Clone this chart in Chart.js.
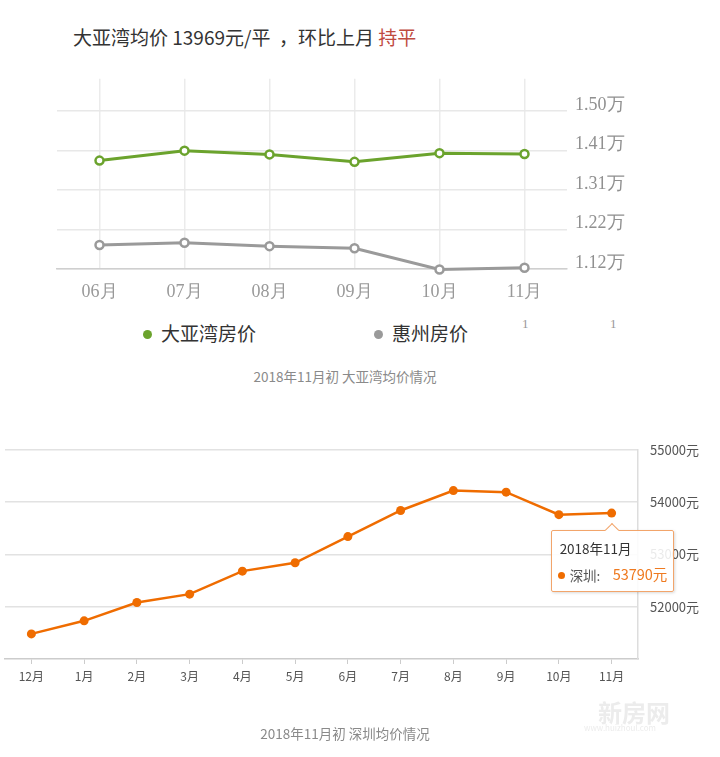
<!DOCTYPE html>
<html lang="zh">
<head>
    <meta charset="UTF-8">
    <meta name="viewport" content="width=device-width, initial-scale=1.0">
    <title>大亚湾均价情况</title>
    <style>
        body { margin: 0; width: 720px; height: 757px; background: #fff; position: relative; overflow: hidden;
               font-family: "Noto Sans CJK SC", "Noto Sans", sans-serif; }
        .abs { position: absolute; white-space: pre; }
        #title { left: 73px; top: 25px; font-size: 19px; line-height: 24px; color: #333; }
        #title .flat { color: #bf4b3f; }
        .caption { left: 0; width: 690px; text-align: center; font-size: 13.5px; line-height: 20px; color: #8a8a8a; }
        .box { position: absolute; left: 0; width: 720px; }
        #topBox { top: 60px; height: 250px; }
        #bottomBox { top: 430px; height: 270px; }
        .legend-item { position: absolute; top: 321px; font-size: 19px; line-height: 24px; color: #333; white-space: pre; }
        .legend-item i { display: inline-block; width: 9px; height: 9px; border-radius: 50%; margin-right: 9px; vertical-align: 2px; }
        .stray { font-family: "Liberation Serif", serif; font-size: 13px; color: #999; top: 316px; }
        #tip { position: absolute; display: none; width: 123px; height: 62px; box-sizing: border-box;
               background: rgba(255,255,255,0.88); border: 1px solid #f2a56b; border-radius: 2px;
               box-shadow: 1px 1px 3px rgba(0,0,0,0.15); }
        #tip::before { content: ""; position: absolute; left: 55px; top: -6px; width: 9px; height: 9px;
               background: #fff; border-left: 1px solid #f2a56b; border-top: 1px solid #f2a56b; transform: rotate(45deg); }
        #tip .t { position: absolute; left: 8px; top: 7px; font-size: 13.5px; line-height: 20px; color: #333; white-space: pre; }
        #tip .d { position: absolute; left: 6px; top: 41px; width: 7px; height: 7px; border-radius: 50%; background: #ef6c00; }
        #tip .n { position: absolute; left: 18px; top: 34px; font-size: 13.5px; line-height: 20px; color: #555; }
        #tip .v { position: absolute; left: 61px; top: 33px; font-size: 14.5px; line-height: 20px; color: #ef7a20; }
        .wm { color: #ececec; }
    </style>
</head>
<body>
    <div id="title" class="abs">大亚湾均价 13969元/平  ，环比上月 <span class="flat">持平</span></div>

    <div id="topBox" class="box"><canvas id="topChart" width="720" height="250"></canvas></div>
    <div id="legend"></div>
    <div class="abs stray" style="left:522px">1</div>
    <div class="abs stray" style="left:610px">1</div>
    <div class="abs caption" style="top:366px">2018年11月初 大亚湾均价情况</div>

    <div id="bottomBox" class="box">
        <canvas id="bottomChart" width="720" height="270"></canvas>
        <div id="tip"><div class="t"></div><div class="d"></div><div class="n"></div><div class="v"></div></div>
    </div>
    <div class="abs wm" style="left:598px; top:694px; font-size:24px; font-weight:bold;">新房网</div>
    <div class="abs wm" style="left:584px; top:722px; font-size:8px;">www.huizhoul.com</div>
    <div class="abs caption" style="top:723px">2018年11月初 深圳均价情况</div>

    <script src="https://cdn.jsdelivr.net/npm/chart.js"></script>

    <script>
        // top chart, prices in 万元/平
        const monthsTop = ['06月', '07月', '08月', '09月', '10月', '11月'];
        const dayawanPrices = [1.381, 1.405, 1.396, 1.378, 1.399, 1.3969];
        const huizhouPrices = [1.178, 1.183, 1.175, 1.170, 1.119, 1.123];
        const topTickValues = [1.12, 1.215, 1.31, 1.405, 1.50];
        const topTickLabels = ['1.12万', '1.22万', '1.31万', '1.41万', '1.50万'];

        // bottom chart, prices in 元/平
        const monthsSz = ['12月', '1月', '2月', '3月', '4月', '5月', '6月', '7月', '8月', '9月', '10月', '11月'];
        const periodsSz = ['2017年12月', '2018年1月', '2018年2月', '2018年3月', '2018年4月', '2018年5月',
                           '2018年6月', '2018年7月', '2018年8月', '2018年9月', '2018年10月', '2018年11月'];
        const shenzhenPrices = [51480, 51730, 52080, 52240, 52680, 52840, 53340, 53840, 54220, 54190, 53760, 53790];

        const serif = "'Liberation Serif', 'DejaVu Serif', serif";
        const sans = "'Noto Sans CJK SC', 'Noto Sans', sans-serif";

        const topChart = new Chart(document.getElementById('topChart'), {
            type: 'line',
            data: {
                labels: monthsTop,
                datasets: [
                    { label: '大亚湾房价', data: dayawanPrices, borderColor: '#6ba32d', borderWidth: 3,
                      pointRadius: 4, pointBorderWidth: 2.5, pointBackgroundColor: '#fff', clip: false },
                    { label: '惠州房价', data: huizhouPrices, borderColor: '#9a9a9a', borderWidth: 3,
                      pointRadius: 4, pointBorderWidth: 2.5, pointBackgroundColor: '#fff', clip: false }
                ]
            },
            options: {
                responsive: false,
                animation: false,
                layout: { padding: { left: 57, top: 18, right: 0, bottom: 7 } },
                plugins: { legend: { display: false }, tooltip: { enabled: false } },
                scales: {
                    x: {
                        offset: true,
                        grid: { color: '#ebebeb', lineWidth: 1.5, drawTicks: false },
                        border: { display: true, color: '#cfcfcf', width: 1.5 },
                        ticks: { padding: 12, color: '#999', font: { family: serif, size: 18 } },
                        afterFit: s => { s.height = 34; }
                    },
                    y: {
                        position: 'right',
                        min: 1.12,
                        max: 1.578,
                        afterBuildTicks: s => { s.ticks = topTickValues.map(v => ({ value: v })); },
                        grid: { color: '#e8e8e8', lineWidth: 1.5, drawTicks: false },
                        border: { display: false },
                        ticks: { padding: 8, labelOffset: -6, color: '#909090', font: { family: serif, size: 18 },
                                 callback: (v, i) => topTickLabels[i] },
                        afterFit: s => { s.width = 153; }
                    }
                }
            }
        });

        // html legend built from the datasets
        const legendLeft = [143, 374];
        topChart.data.datasets.forEach((ds, i) => {
            const item = document.createElement('div');
            item.className = 'legend-item';
            item.style.left = legendLeft[i] + 'px';
            item.innerHTML = '<i style="background:' + ds.borderColor + '"></i>' + ds.label;
            document.getElementById('legend').appendChild(item);
        });

        function externalTooltip(context) {
            const tooltip = context.tooltip;
            const tip = document.getElementById('tip');
            if (tooltip.opacity === 0 || !tooltip.dataPoints || !tooltip.dataPoints.length) {
                tip.style.display = 'none';
                return;
            }
            const p = tooltip.dataPoints[0];
            tip.querySelector('.t').textContent = periodsSz[p.dataIndex];
            tip.querySelector('.n').textContent = p.dataset.label + ':';
            tip.querySelector('.v').textContent = p.raw + '元';
            tip.style.left = (tooltip.caretX - 61) + 'px';
            tip.style.top = (tooltip.caretY + 17) + 'px';
            tip.style.display = 'block';
        }

        const bottomChart = new Chart(document.getElementById('bottomChart'), {
            type: 'line',
            data: {
                labels: monthsSz,
                datasets: [
                    { label: '深圳', data: shenzhenPrices, borderColor: '#ef6c00', backgroundColor: '#ef6c00',
                      borderWidth: 2.5, pointRadius: 4.5, pointBorderWidth: 0, pointBackgroundColor: '#ef6c00', clip: false }
                ]
            },
            options: {
                responsive: false,
                animation: false,
                layout: { padding: { left: 5, top: 17, right: 0, bottom: 15 } },
                plugins: {
                    legend: { display: false },
                    tooltip: { enabled: false, external: externalTooltip }
                },
                scales: {
                    x: {
                        offset: true,
                        grid: { drawOnChartArea: false, drawTicks: true, tickLength: 5, color: '#cccccc' },
                        border: { display: true, color: '#cccccc', width: 1.5 },
                        ticks: { padding: 5, color: '#555', font: { family: sans, size: 12 } },
                        afterFit: s => { s.height = 26; }
                    },
                    y: {
                        position: 'right',
                        min: 51000,
                        max: 55000,
                        grid: { color: '#e2e2e2', lineWidth: 1.5, drawTicks: false },
                        border: { display: true, color: '#dddddd', width: 1.5 },
                        ticks: { stepSize: 1000, padding: 12, color: '#555', font: { family: sans, size: 13 },
                                 callback: v => v === 51000 ? null : v + '元' },
                        afterFit: s => { s.width = 82; }
                    }
                }
            }
        });

        // show the tooltip for the latest month
        bottomChart.tooltip.setActiveElements([{ datasetIndex: 0, index: shenzhenPrices.length - 1 }], { x: 0, y: 0 });
    </script>
</body>
</html>
